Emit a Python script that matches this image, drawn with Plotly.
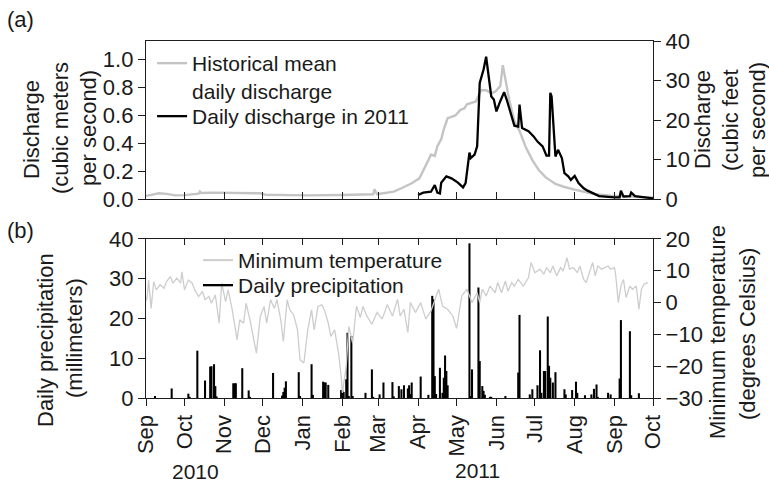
import plotly.graph_objects as go

# ---------------- data ----------------
month_ticks = ["2010-09-01", "2010-10-01", "2010-11-01", "2010-12-01", "2011-01-01",
               "2011-02-01", "2011-03-01", "2011-04-01", "2011-05-01", "2011-06-01",
               "2011-07-01", "2011-08-01", "2011-09-01", "2011-10-01"]
month_labels = ["Sep", "Oct", "Nov", "Dec", "Jan", "Feb", "Mar", "Apr", "May", "Jun",
                "Jul", "Aug", "Sep", "Oct"]

# Historical mean daily discharge (cubic meters per second)
hist_dates = ["2010-09-01", "2010-09-11", "2010-09-17", "2010-09-24", "2010-10-01", "2010-10-08",
              "2010-10-12", "2010-10-13", "2010-10-14", "2010-10-23", "2010-11-13", "2010-11-29",
              "2010-12-03", "2010-12-22", "2011-01-05", "2011-01-31", "2011-02-25", "2011-02-26",
              "2011-02-28", "2011-03-05", "2011-03-13", "2011-03-19", "2011-03-27", "2011-04-02",
              "2011-04-06", "2011-04-09", "2011-04-11", "2011-04-14", "2011-04-16", "2011-04-19",
              "2011-04-21", "2011-04-24", "2011-04-27", "2011-04-30", "2011-05-04", "2011-05-07",
              "2011-05-09", "2011-05-13", "2011-05-16", "2011-05-20", "2011-05-24", "2011-05-28",
              "2011-05-31", "2011-06-04", "2011-06-06", "2011-06-08", "2011-06-11", "2011-06-15",
              "2011-06-19", "2011-06-24", "2011-06-29", "2011-07-04", "2011-07-09", "2011-07-17",
              "2011-07-24", "2011-08-01", "2011-08-09", "2011-08-17", "2011-08-29", "2011-09-10",
              "2011-09-20", "2011-10-01"]
hist_cms = [0.024, 0.043, 0.039, 0.028, 0.030, 0.038,
            0.040, 0.055, 0.045, 0.048, 0.048, 0.043,
            0.033, 0.031, 0.028, 0.031, 0.036, 0.071,
            0.036, 0.043, 0.055, 0.079, 0.115, 0.150,
            0.220, 0.280, 0.320, 0.310, 0.380, 0.430,
            0.500, 0.580, 0.590, 0.600, 0.640, 0.650,
            0.680, 0.690, 0.700, 0.780, 0.780, 0.760,
            0.770, 0.810, 0.960, 0.860, 0.710, 0.560,
            0.490, 0.370, 0.280, 0.210, 0.160, 0.110,
            0.088, 0.069, 0.052, 0.036, 0.026, 0.018,
            0.016, 0.014]

# Daily discharge in 2011 (cubic meters per second)
q2011_dates = ["2011-04-01", "2011-04-05", "2011-04-11", "2011-04-14", "2011-04-16", "2011-04-18",
               "2011-04-19", "2011-04-23", "2011-04-27", "2011-05-02", "2011-05-06", "2011-05-08",
               "2011-05-11", "2011-05-12", "2011-05-15", "2011-05-17", "2011-05-19", "2011-05-22",
               "2011-05-24", "2011-05-26", "2011-05-28", "2011-05-30", "2011-06-01", "2011-06-04",
               "2011-06-07", "2011-06-09", "2011-06-13", "2011-06-15", "2011-06-18", "2011-06-19",
               "2011-06-21", "2011-06-26", "2011-06-30", "2011-07-03", "2011-07-07", "2011-07-10",
               "2011-07-12", "2011-07-13", "2011-07-14", "2011-07-17", "2011-07-19", "2011-07-22",
               "2011-07-24", "2011-07-27", "2011-07-29", "2011-08-01", "2011-08-04", "2011-08-08",
               "2011-08-11", "2011-08-15", "2011-08-20", "2011-09-01", "2011-09-05", "2011-09-06",
               "2011-09-08", "2011-09-13", "2011-09-14", "2011-09-17", "2011-09-23", "2011-10-01"]
q2011_cms = [0.031, 0.048, 0.054, 0.102, 0.048, 0.042,
             0.119, 0.164, 0.150, 0.119, 0.085, 0.116,
             0.334, 0.295, 0.320, 0.379, 0.833, 0.929,
             1.020, 0.858, 0.736, 0.714, 0.629, 0.702,
             0.767, 0.714, 0.595, 0.527, 0.521, 0.677,
             0.510, 0.487, 0.450, 0.413, 0.379, 0.312,
             0.312, 0.762, 0.736, 0.306, 0.354, 0.295,
             0.187, 0.164, 0.139, 0.167, 0.116, 0.079,
             0.062, 0.042, 0.023, 0.014, 0.014, 0.062,
             0.020, 0.023, 0.048, 0.023, 0.014, 0.006]

# Minimum temperature (degrees Celsius)
temp_dates = ["2010-09-01", "2010-09-02", "2010-09-03", "2010-09-05", "2010-09-07", "2010-09-09",
              "2010-09-12", "2010-09-15", "2010-09-17", "2010-09-20", "2010-09-22", "2010-09-25",
              "2010-09-28", "2010-09-29", "2010-10-01", "2010-10-04", "2010-10-07", "2010-10-09",
              "2010-10-12", "2010-10-15", "2010-10-17", "2010-10-20", "2010-10-22", "2010-10-25",
              "2010-10-28", "2010-10-30", "2010-11-02", "2010-11-04", "2010-11-07", "2010-11-10",
              "2010-11-11", "2010-11-13", "2010-11-16", "2010-11-18", "2010-11-21", "2010-11-24",
              "2010-11-26", "2010-11-29", "2010-12-02", "2010-12-04", "2010-12-07", "2010-12-10",
              "2010-12-12", "2010-12-15", "2010-12-17", "2010-12-20", "2010-12-22", "2010-12-25",
              "2010-12-28", "2010-12-30", "2011-01-02", "2011-01-05", "2011-01-08", "2011-01-10",
              "2011-01-13", "2011-01-16", "2011-01-18", "2011-01-21", "2011-01-23", "2011-01-26",
              "2011-01-29", "2011-01-31", "2011-02-01", "2011-02-04", "2011-02-06", "2011-02-09",
              "2011-02-12", "2011-02-15", "2011-02-17", "2011-02-20", "2011-02-24", "2011-02-28",
              "2011-03-04", "2011-03-08", "2011-03-12", "2011-03-16", "2011-03-18", "2011-03-21",
              "2011-03-24", "2011-03-26", "2011-03-30", "2011-04-03", "2011-04-07", "2011-04-11",
              "2011-04-15", "2011-04-17", "2011-04-20", "2011-04-24", "2011-04-28", "2011-05-01",
              "2011-05-05", "2011-05-09", "2011-05-13", "2011-05-17", "2011-05-19", "2011-05-21",
              "2011-05-24", "2011-05-27", "2011-05-31", "2011-06-02", "2011-06-05", "2011-06-08",
              "2011-06-10", "2011-06-13", "2011-06-15", "2011-06-18", "2011-06-22", "2011-06-26",
              "2011-06-28", "2011-07-01", "2011-07-05", "2011-07-08", "2011-07-10", "2011-07-13",
              "2011-07-15", "2011-07-18", "2011-07-21", "2011-07-23", "2011-07-26", "2011-07-28",
              "2011-07-31", "2011-08-03", "2011-08-05", "2011-08-08", "2011-08-10", "2011-08-13",
              "2011-08-15", "2011-08-17", "2011-08-19", "2011-08-22", "2011-08-24", "2011-08-27",
              "2011-08-29", "2011-09-01", "2011-09-02", "2011-09-04", "2011-09-06", "2011-09-08",
              "2011-09-10", "2011-09-13", "2011-09-15", "2011-09-18", "2011-09-20", "2011-09-22",
              "2011-09-24", "2011-09-27"]
temp_c = [0.5, 1.9, 7.1, -1.8, 6.6, 4.0,
          5.6, 4.5, 6.6, 8.2, 6.1, 7.7,
          6.1, 9.7, 4.0, 7.1, 6.1, 4.0,
          1.9, 3.5, 0.9, 1.9, -0.2, 2.4,
          -6.5, 6.1, 0.3, 4.0, -1.8, -8.6,
          -11.7, -5.4, -6.5, -0.2, -5.4, -11.7,
          -15.9, -4.4, -1.2, -6.5, 0.9, -1.8,
          0.9, -5.4, -12.2, 0.9, -2.3, -3.8,
          -8.6, -18.0, -19.0, -8.6, -2.3, -8.6,
          -1.2, -0.7, -2.3, -6.5, -10.6, -8.6,
          -15.9, -23.0, -28.4, -20.0, -7.5, -12.7,
          -1.1, -4.7, -1.2, -4.2, -6.8, -3.1,
          -5.2, -0.6, -4.2, 1.0, -4.2, -2.1,
          -9.4, 0.0, -3.1, 0.0, -5.2, -2.6,
          2.1, 4.2, -1.1, -2.1, -4.2, -8.1,
          2.1, 4.2, 0.0, 3.1, 0.0, 4.2,
          2.1, 5.2, 3.1, 6.3, 3.1, 6.8,
          3.6, 6.3, 5.2, 7.3, 5.2, 7.9,
          12.6, 9.4, 10.5, 8.9, 11.0, 9.4,
          11.5, 8.4, 11.0, 9.9, 14.1, 10.5,
          11.0, 9.4, 11.5, 7.3, 6.3, 9.9,
          12.6, 8.4, 11.5, 10.5, 11.0, 11.5,
          10.5, 11.0, 8.4, 0.0, 5.2, 7.3,
          1.6, 5.2, 4.2, 5.2, -2.1, 4.2,
          5.8, 6.3]

# Daily precipitation (millimeters)
precip_dates = ["2010-09-08", "2010-09-21", "2010-10-04", "2010-10-05", "2010-10-11", "2010-10-17",
                "2010-10-21", "2010-10-22", "2010-10-24", "2010-10-25", "2010-10-26", "2010-11-08",
                "2010-11-09", "2010-11-10", "2010-11-15", "2010-11-20", "2010-11-21", "2010-12-09",
                "2010-12-16", "2010-12-17", "2010-12-18", "2010-12-19", "2010-12-29", "2010-12-30",
                "2011-01-08", "2011-01-09", "2011-01-17", "2011-01-18", "2011-01-19", "2011-01-21",
                "2011-01-31", "2011-02-01", "2011-02-02", "2011-02-04", "2011-02-05", "2011-02-06",
                "2011-02-08", "2011-02-09", "2011-02-19", "2011-02-24", "2011-02-25", "2011-03-02",
                "2011-03-05", "2011-03-12", "2011-03-13", "2011-03-17", "2011-03-19", "2011-03-21",
                "2011-03-24", "2011-03-25", "2011-03-26", "2011-03-27", "2011-04-03", "2011-04-09",
                "2011-04-12", "2011-04-13", "2011-04-14", "2011-04-15", "2011-04-18", "2011-04-20",
                "2011-04-21", "2011-04-22", "2011-04-23", "2011-04-24", "2011-05-11", "2011-05-12",
                "2011-05-13", "2011-05-18", "2011-05-19", "2011-05-21", "2011-05-22", "2011-05-23",
                "2011-05-27", "2011-05-28", "2011-06-08", "2011-06-18", "2011-06-19", "2011-06-27",
                "2011-06-29", "2011-07-03", "2011-07-05", "2011-07-06", "2011-07-08", "2011-07-09",
                "2011-07-11", "2011-07-12", "2011-07-13", "2011-07-15", "2011-07-17", "2011-07-24",
                "2011-07-25", "2011-07-30", "2011-08-02", "2011-08-03", "2011-08-09", "2011-08-14",
                "2011-08-16", "2011-08-18", "2011-08-19", "2011-08-27", "2011-08-29", "2011-09-05",
                "2011-09-06", "2011-09-13", "2011-09-14", "2011-09-20"]
precip_mm = [0.5, 2.4, 1.1, 0.3, 11.9, 4.4,
             7.9, 8.0, 8.5, 3.0, 0.4, 3.7,
             3.7, 3.7, 7.5, 1.9, 0.3, 6.3,
             0.6, 1.5, 2.6, 4.2, 6.5, 0.5,
             8.5, 0.8, 4.1, 3.9, 3.9, 3.3,
             2.0, 2.0, 1.5, 4.7, 16.4, 0.5,
             15.6, 0.5, 1.3, 7.2, 0.3, 0.9,
             3.9, 4.0, 0.4, 3.0, 2.2, 3.2,
             2.4, 3.2, 1.0, 3.9, 5.4, 0.8,
             25.7, 24.8, 5.5, 1.0, 7.6, 1.3,
             5.1, 10.7, 6.8, 3.2, 38.9, 0.5,
             7.2, 27.8, 9.3, 3.0, 1.8, 0.8,
             0.3, 0.3, 0.5, 6.4, 20.9, 0.9,
             2.2, 3.2, 12.0, 1.3, 6.8, 6.8,
             20.5, 8.1, 5.1, 3.9, 6.5, 2.2,
             0.9, 2.0, 4.1, 1.3, 0.7, 0.9,
             2.3, 3.4, 0.3, 1.3, 0.9, 4.9,
             19.6, 16.8, 0.7, 1.2]

# ---------------- figure ----------------
FONT = "Liberation Sans, Arial, sans-serif"
AX = "#1e1e1e"
DAY_MS = 86400000
GRAY_Q = "#c4c4c4"
GRAY_T = "#cdcdcd"

fig = go.Figure()

# top panel
fig.add_trace(go.Scatter(x=hist_dates, y=hist_cms, mode="lines",
                         name="Historical mean<br>daily discharge",
                         line=dict(color=GRAY_Q, width=2.4),
                         xaxis="x", yaxis="y", legend="legend"))
fig.add_trace(go.Scatter(x=q2011_dates, y=q2011_cms, mode="lines",
                         name="Daily discharge in 2011",
                         line=dict(color="#000000", width=2.3),
                         xaxis="x", yaxis="y", legend="legend3"))
# empty trace so the right-hand (cubic feet) axis is drawn
fig.add_trace(go.Scatter(x=[], y=[], xaxis="x", yaxis="y2", showlegend=False,
                         hoverinfo="skip"))

# bottom panel
fig.add_trace(go.Bar(x=precip_dates, y=precip_mm, name="Daily precipitation",
                     marker=dict(color="#000000", line=dict(width=0)),
                     width=1.6 * DAY_MS, xaxis="x2", yaxis="y3", showlegend=False))
fig.add_trace(go.Scatter(x=temp_dates, y=temp_c, mode="lines",
                         name="Minimum temperature",
                         line=dict(color=GRAY_T, width=1.3),
                         xaxis="x2", yaxis="y4", showlegend=False))
# legend entries (line samples) for the bottom panel
fig.add_trace(go.Scatter(x=[None], y=[None], mode="lines", name="Minimum temperature",
                         line=dict(color=GRAY_T, width=2.0),
                         xaxis="x2", yaxis="y4", legend="legend2"))
fig.add_trace(go.Scatter(x=[None], y=[None], mode="lines", name="Daily precipitation",
                         line=dict(color="#000000", width=2.3),
                         xaxis="x2", yaxis="y3", legend="legend4"))
# empty trace so the inner top tick marks of the lower panel are drawn
fig.add_trace(go.Scatter(x=[], y=[], xaxis="x3", yaxis="y3", showlegend=False,
                         hoverinfo="skip"))

xrange_ = ["2010-09-01", "2011-10-01"]
top_dom = [0.5566, 1.0]
bot_dom = [0.0, 0.4454]

common_x = dict(type="date", range=xrange_, tickvals=month_ticks, showgrid=False,
                zeroline=False, linecolor=AX, linewidth=1.3, tickcolor=AX, tickwidth=1.3)
common_y = dict(showgrid=False, zeroline=False, showline=True, linecolor=AX, linewidth=1.3,
                ticks="outside", ticklen=7, tickcolor=AX, tickwidth=1.3)

def py(p):
    return (398 - p) / 357

leg = dict(x=0.012, xanchor="left", yanchor="top", bgcolor="rgba(0,0,0,0)",
           font=dict(size=21), valign="top", tracegroupgap=0)

fig.update_layout(
    width=769, height=486, autosize=False,
    margin=dict(l=146, r=116, t=41, b=88, pad=0),
    paper_bgcolor="white", plot_bgcolor="white",
    font=dict(family=FONT, size=22, color="#1a1a1a"),
    barmode="overlay",
    xaxis=dict(common_x, anchor="y", domain=[0, 1], ticks="inside", ticklen=7,
               showticklabels=False, showline=True, mirror=True),
    yaxis=dict(common_y, anchor="x", domain=top_dom, range=[0, 1.1327],
               tickvals=[0, 0.2, 0.4, 0.6, 0.8, 1.0], tickformat=".1f"),
    yaxis2=dict(common_y, anchor="x", overlaying="y", side="right", range=[0, 40],
                tickvals=[0, 10, 20, 30, 40]),
    xaxis2=dict(common_x, anchor="y3", domain=[0, 1], ticks="outside", ticklen=7,
                ticktext=month_labels, tickangle=-90, showline=True, mirror=True),
    xaxis3=dict(common_x, anchor="y3", overlaying="x2", side="top", ticks="inside",
                ticklen=6, showticklabels=False, showline=False),
    yaxis3=dict(common_y, anchor="x2", domain=bot_dom, range=[0, 40],
                tickvals=[0, 10, 20, 30, 40]),
    yaxis4=dict(common_y, anchor="x2", overlaying="y3", side="right", range=[-30, 20],
                tickvals=[-30, -20, -10, 0, 10, 20]),
    legend=dict(leg, y=py(43)),
    legend3=dict(leg, y=py(96)),
    legend2=dict(leg, x=0.1026, y=py(240)),
    legend4=dict(leg, x=0.1026, y=py(265)),
    showlegend=True,
)

ann = []
def txt(t, px, pyy, angle=0, xa="center", size=22):
    ann.append(dict(text=t, x=(px - 146) / 507, y=py(pyy), xref="paper", yref="paper",
                    showarrow=False, textangle=angle, xanchor=xa, yanchor="middle",
                    font=dict(family=FONT, size=size, color="#1a1a1a")))

txt("(a)", 5, 20, xa="left")
txt("(b)", 5, 230, xa="left")
txt("Discharge", 31, 130, -90)
txt("(cubic meters", 60, 128, -90)
txt("per second)", 88, 128, -90)
txt("Discharge", 702, 120, -90)
txt("(cubic feet", 730, 120, -90)
txt("per second)", 757, 120, -90)
txt("Daily precipitation", 45, 340, -90)
txt("(millimeters)", 74, 338, -90)
txt("Minimum temperature", 717, 332, -90)
txt("(degrees Celsius)", 747, 334, -90)
txt("2010", 195, 471, size=21)
txt("2011", 477, 470, size=21)
fig.update_layout(annotations=ann)

fig.write_html("out.html")
